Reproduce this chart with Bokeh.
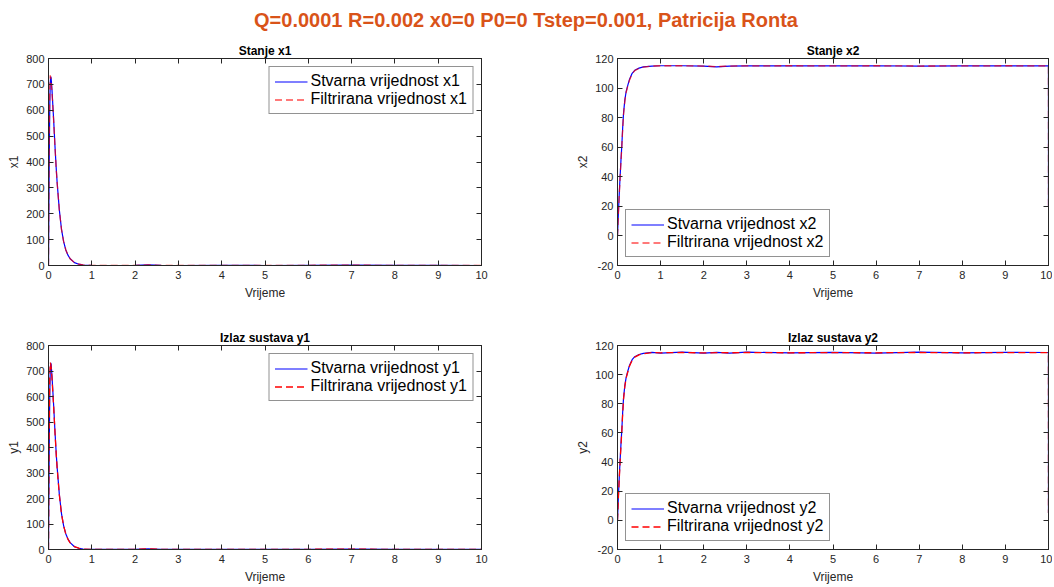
from bokeh.plotting import figure
from bokeh.layouts import column, row
from bokeh.models import Div, LinearAxis, FixedTicker, Range1d, Legend, LegendItem
from bokeh.embed import file_html
from bokeh.resources import INLINE

FONT = "Liberation Sans"
TXT = "#262626"

MAIN_TITLE = "Q=0.0001 R=0.002 x0=0 P0=0 Tstep=0.001, Patricija Ronta"
X_LABEL = "Vrijeme"
X_TICKS = [0, 1, 2, 3, 4, 5, 6, 7, 8, 9, 10]

# ---- state x1 / output y1 (time in s) ----
t_a = [0, 0.01, 0.02, 0.03, 0.04, 0.05, 0.06, 0.08, 0.10, 0.12, 0.15, 0.18, 0.20,
       0.25, 0.30, 0.35, 0.40, 0.45, 0.50, 0.60, 0.70, 0.80, 1.0, 1.5, 2.0, 2.3,
       2.6, 3.0, 4.0, 5.0, 6.0, 7.0, 8.0, 9.0, 10.0]
x1_true = [0, 250, 470, 620, 705, 730, 725, 680, 620, 560, 460, 370, 320,
           215, 140, 92, 60, 40, 26, 11, 5, 2, 0.5, 0, 0.5, 2.5,
           0.8, 0, 0.5, 0, 0.8, 1.5, 0.3, 0.5, 0]
x1_filt = [0, 330, 560, 690, 735, 728, 715, 672, 615, 556, 458, 369, 319,
           214, 140, 92, 60, 40, 26, 11, 5, 2, 0.5, 0, 0.5, 2.4,
           0.8, 0, 0.5, 0, 0.8, 1.4, 0.3, 0.5, 0]
y1_true = [0, 240, 460, 615, 700, 732, 727, 682, 622, 562, 461, 371, 321,
           216, 141, 93, 61, 41, 27, 11, 5, 2, 0.5, 0.3, 0.8, 3.0,
           1.0, 0.2, 0.6, 0.2, 1.0, 1.8, 0.5, 0.7, 0.3]
y1_filt = [0, 320, 550, 685, 733, 728, 716, 673, 616, 557, 459, 369, 319,
           215, 140, 92, 60, 40, 26, 11, 5, 2, 0.5, 0, 0.5, 2.5,
           0.8, 0, 0.5, 0, 0.8, 1.5, 0.3, 0.5, 0]

# ---- state x2 / output y2 ----
t_b = [0, 0.02, 0.04, 0.06, 0.08, 0.10, 0.12, 0.14, 0.17, 0.20, 0.24, 0.28,
       0.34, 0.40, 0.50, 0.60, 0.80, 1.0, 1.5, 2.0, 2.3, 2.6, 3.0, 4.0, 5.0,
       6.0, 7.0, 8.0, 9.0, 9.999, 10.0]
x2_true = [0, 15, 28, 40, 51, 61, 73, 83, 92, 97.5, 102, 106,
           110, 112, 113.5, 114.3, 114.9, 115.1, 115.1, 114.9, 114.4, 114.9, 115.0, 115.1, 115.0,
           115.1, 114.9, 115.0, 115.1, 115.0, 20]
x2_filt = [0, 14, 27, 39, 50, 60, 72, 82, 91, 97, 101.5, 105.5,
           109.7, 111.8, 113.4, 114.2, 114.9, 115.1, 115.1, 114.9, 114.5, 114.9, 115.0, 115.1, 115.0,
           115.1, 114.9, 115.0, 115.1, 115.0, 20]
y2_true = [0, 16, 29, 41, 52, 62, 74, 84, 92.5, 98, 102.5, 106.5,
           110.3, 112.3, 113.8, 114.6, 115.3, 114.8, 115.4, 114.7, 115.3, 114.8, 115.4, 114.9, 115.3,
           114.8, 115.4, 114.9, 115.3, 115.2, 5]
y2_filt = [0, 15, 28, 40, 51, 61, 73, 83, 92, 97.5, 102, 106,
           110, 112, 113.6, 114.4, 115.1, 115.0, 115.2, 114.9, 115.1, 115.0, 115.2, 115.0, 115.1,
           115.0, 115.2, 115.0, 115.1, 115.1, 5]

Y1_TICKS = [0, 100, 200, 300, 400, 500, 600, 700, 800]
Y2_TICKS = [-20, 0, 20, 40, 60, 80, 100, 120]


def make_fig(title, ylabel, yrange, yticks, t, true_v, filt_v, lab_true, lab_filt,
             leg_loc, width, height, mbl, mbr, mbt, mbb, red_alpha):
    p = figure(width=width, height=height, x_range=Range1d(0, 10),
               y_range=Range1d(*yrange), output_backend="svg", toolbar_location=None,
               min_border_left=mbl, min_border_right=mbr, min_border_top=mbt,
               min_border_bottom=mbb, background_fill_color="white",
               border_fill_color="white")
    p.xgrid.visible = False
    p.ygrid.visible = False
    p.outline_line_color = TXT
    p.outline_line_width = 1

    p.title.text = title
    p.title.align = "center"
    p.title.text_font = FONT
    p.title.text_font_size = "12px"
    p.title.text_font_style = "bold"
    p.title.text_color = "black"
    p.title.standoff = 2

    overrides = {v: str(v) for v in yticks}

    xa = p.xaxis[0]
    xa.ticker = FixedTicker(ticks=X_TICKS)
    xa.axis_label = X_LABEL
    ya = p.yaxis[0]
    ya.ticker = FixedTicker(ticks=yticks)
    ya.major_label_overrides = overrides
    ya.axis_label = ylabel
    for ax in (xa, ya):
        ax.major_tick_in = 5
        ax.major_tick_out = 0
        ax.minor_tick_line_color = None
        ax.axis_line_color = TXT
        ax.major_tick_line_color = TXT
        ax.major_label_text_font = FONT
        ax.major_label_text_font_size = "11px"
        ax.major_label_text_color = TXT
        ax.axis_label_text_font = FONT
        ax.axis_label_text_font_size = "12px"
        ax.axis_label_text_font_style = "normal"
        ax.axis_label_text_color = TXT
    xa.major_label_standoff = 5
    xa.axis_label_standoff = 4
    ya.major_label_standoff = 4
    ya.axis_label_standoff = 2

    # box ticks on top and right (no labels)
    top = LinearAxis(ticker=FixedTicker(ticks=X_TICKS))
    right = LinearAxis(ticker=FixedTicker(ticks=yticks))
    for ax in (top, right):
        ax.major_tick_in = 5
        ax.major_tick_out = 0
        ax.minor_tick_line_color = None
        ax.axis_line_color = TXT
        ax.major_tick_line_color = TXT
        ax.major_label_text_color = None
        ax.major_label_text_font_size = "1px"
        ax.major_label_standoff = 0
    p.add_layout(top, "above")
    p.add_layout(right, "right")

    r1 = p.line(t, true_v, line_color="#0000ff", line_width=1.2)
    r2 = p.line(t, filt_v, line_color="#ff0000", line_width=1.3, line_dash="7 4",
                line_alpha=red_alpha)

    leg = Legend(items=[LegendItem(label=lab_true, renderers=[r1]),
                        LegendItem(label=lab_filt, renderers=[r2])],
                 location=leg_loc)
    leg.border_line_color = TXT
    leg.border_line_width = 1
    leg.background_fill_color = "white"
    leg.background_fill_alpha = 1
    leg.label_text_font = FONT
    leg.label_text_font_size = "16px"
    leg.label_text_color = "black"
    leg.glyph_width = 33
    leg.glyph_height = 17
    leg.label_height = 17
    leg.label_standoff = 3
    leg.padding = 5
    leg.spacing = 0
    leg.margin = 8
    p.add_layout(leg)
    return p


LW, RW = 560, 492
TH, BH = 266, 284

p1 = make_fig("Stanje x1", "x1", (0, 800), Y1_TICKS, t_a, x1_true, x1_filt,
              "Stvarna vrijednost x1", "Filtrirana vrijednost x1", "top_right",
              LW, TH, 48, 79, 22, 37, 0.7)
p2 = make_fig("Stanje x2", "x2", (-20, 120), Y2_TICKS, t_b, x2_true, x2_filt,
              "Stvarna vrijednost x2", "Filtrirana vrijednost x2", "bottom_left",
              RW, TH, 57, 4, 22, 37, 0.7)
p3 = make_fig("Izlaz sustava y1", "y1", (0, 800), Y1_TICKS, t_a, y1_true, y1_filt,
              "Stvarna vrijednost y1", "Filtrirana vrijednost y1", "top_right",
              LW, BH, 48, 79, 43, 33, 1.0)
p4 = make_fig("Izlaz sustava y2", "y2", (-20, 120), Y2_TICKS, t_b, y2_true, y2_filt,
              "Stvarna vrijednost y2", "Filtrirana vrijednost y2", "bottom_left",
              RW, BH, 57, 4, 43, 33, 1.0)

title_div = Div(
    text=('<div style="width:%dpx;text-align:center;font-family:\'Liberation Sans\';'
          'font-weight:bold;font-size:20px;color:#D95319;line-height:24px;'
          'padding-top:8px;">%s</div>') % (LW + RW, MAIN_TITLE),
    width=LW + RW, height=36, margin=0)

layout = column(title_div, row(p1, p2, spacing=0), row(p3, p4, spacing=0), spacing=0)

open("out.html", "w").write(file_html(layout, INLINE))
